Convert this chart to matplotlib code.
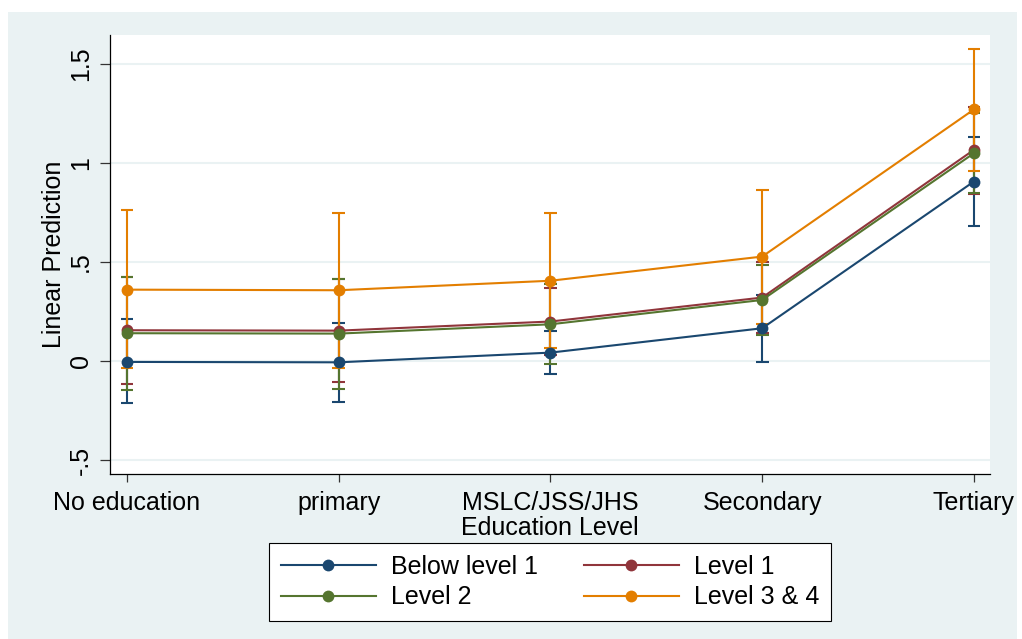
import matplotlib
matplotlib.use("Agg")
import matplotlib.pyplot as plt
from matplotlib.patches import Rectangle

plt.rcParams["font.family"] = ["Liberation Sans", "DejaVu Sans"]

# Education categories on the x axis
categories = ["No education", "primary", "MSLC/JSS/JHS", "Secondary", "Tertiary"]

# Predicted margins with 95% confidence limits per literacy level
below1_mean = [-0.005, -0.007, 0.042, 0.165, 0.906]
below1_lo = [-0.214, -0.205, -0.066, -0.003, 0.682]
below1_hi = [0.210, 0.190, 0.150, 0.333, 1.130]

level1_mean = [0.155, 0.153, 0.199, 0.320, 1.066]
level1_lo = [-0.116, -0.106, 0.028, 0.140, 0.842]
level1_hi = [0.426, 0.412, 0.370, 0.500, 1.281]

level2_mean = [0.140, 0.138, 0.185, 0.308, 1.049]
level2_lo = [-0.145, -0.140, -0.017, 0.131, 0.850]
level2_hi = [0.425, 0.415, 0.387, 0.485, 1.250]

level34_mean = [0.360, 0.357, 0.405, 0.527, 1.270]
level34_lo = [-0.037, -0.034, 0.064, 0.187, 0.961]
level34_hi = [0.763, 0.747, 0.747, 0.864, 1.574]

series_names = ["Below level 1", "Level 1", "Level 2", "Level 3 & 4"]
series_colors = ["#1A476F", "#90353B", "#55752F", "#E37E00"]
series = [
    (below1_mean, below1_lo, below1_hi),
    (level1_mean, level1_lo, level1_hi),
    (level2_mean, level2_lo, level2_hi),
    (level34_mean, level34_lo, level34_hi),
]

FS = 18
W, H = 1022, 639
fig = plt.figure(figsize=(W / 100, H / 100), dpi=100, facecolor="white")
bg = "#EAF2F3"
fig.patches.append(Rectangle((8 / W, 0), (1017 - 8) / W, (H - 12) / H,
                             transform=fig.transFigure, facecolor=bg,
                             edgecolor="none", zorder=-10))

left, right, top, bottom = 110, 990, 35, 474
ax = fig.add_axes([left / W, (H - bottom) / H, (right - left) / W, (bottom - top) / H])
ax.set_facecolor("white")

x = list(range(1, len(categories) + 1))

# confidence intervals
for (m, lo, hi), c in zip(series, series_colors):
    for xi, l, h in zip(x, lo, hi):
        ax.plot([xi, xi], [l, h], color=c, lw=1.5, zorder=3, solid_capstyle="butt")
        for yv in (l, h):
            ax.plot([xi - 0.03, xi + 0.03], [yv, yv], color=c, lw=1.5, zorder=3,
                    solid_capstyle="butt")

# connected margins
handles = []
for (m, lo, hi), c, name in zip(series, series_colors, series_names):
    h, = ax.plot(x, m, color=c, lw=1.5, marker="o", markersize=8.5,
                 markeredgewidth=0, label=name, zorder=4)
    handles.append(h)

ax.set_xlim(0.92, 5.076)
ax.set_ylim(-0.571, 1.646)
ax.set_xticks(x)
ax.set_xticklabels(categories, fontsize=FS)
yt = [-0.5, 0, 0.5, 1, 1.5]
ax.set_yticks(yt)
ax.set_yticklabels(["-.5", "0", ".5", "1", "1.5"], fontsize=FS, rotation=90, va="center")
ax.yaxis.grid(True, color=bg, lw=1.5)
ax.set_axisbelow(True)

for s in ("top", "right"):
    ax.spines[s].set_visible(False)
for s in ("left", "bottom"):
    ax.spines[s].set_linewidth(0.9)
    ax.spines[s].set_color("black")

ax.tick_params(axis="y", length=7.2, width=0.9, pad=5, color="#333333")
ax.tick_params(axis="x", length=5.8, width=0.9, pad=6.5, color="#333333")

ax.set_xlabel("Education Level", fontsize=FS, labelpad=1)
ax.set_ylabel("Linear Prediction", fontsize=FS)
ax.yaxis.set_label_coords(-0.0495, 0.5)

order = [0, 2, 1, 3]
leg = fig.legend([handles[i] for i in order], [series_names[i] for i in order],
                 ncol=2, loc="center", bbox_to_anchor=(550 / W, (H - 582) / H),
                 fontsize=FS, frameon=True, fancybox=False, framealpha=1,
                 edgecolor="black", handlelength=3.8, handletextpad=0.6,
                 columnspacing=1.85, borderpad=0.45, labelspacing=0.28)
leg.get_frame().set_linewidth(0.8)

fig.savefig("out.png", dpi=100, facecolor="white")
